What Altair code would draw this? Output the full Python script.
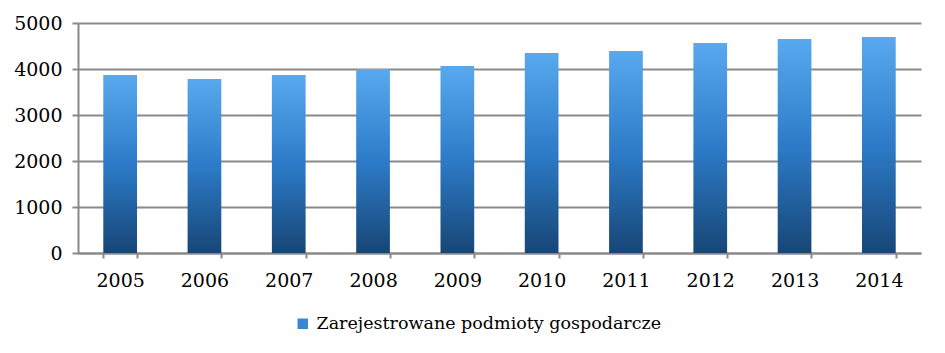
import altair as alt
import pandas as pd

years = ["2005", "2006", "2007", "2008", "2009", "2010", "2011", "2012", "2013", "2014"]
values = [3870, 3785, 3870, 4000, 4065, 4350, 4390, 4565, 4650, 4695]
series_name = "Zarejestrowane podmioty gospodarcze"
y_ticks = [0, 1000, 2000, 3000, 4000, 5000]

df = pd.DataFrame({"rok": years, "wartosc": values, "seria": [series_name] * len(years)})

grad = {
    "gradient": "linear",
    "x1": 0, "y1": 0, "x2": 0, "y2": 1,
    "stops": [
        {"offset": 0, "color": "#58a9ef"},
        {"offset": 0.5, "color": "#2d7bc8"},
        {"offset": 1, "color": "#174676"},
    ],
}

FONT = "DejaVu Serif"
GRID = "#898989"

chart = alt.Chart(df).mark_bar(fill=alt.Gradient(**grad)).encode(
    x=alt.X(
        "rok:N",
        sort=years,
        title=None,
        scale=alt.Scale(paddingInner=0.6, paddingOuter=0.3),
        axis=alt.Axis(
            labelAngle=0,
            tickBand="extent",
            ticks=True,
            tickSize=5,
            labelPadding=13,
            grid=False,
        ),
    ),
    y=alt.Y(
        "wartosc:Q",
        title=None,
        scale=alt.Scale(domain=[0, 5000], nice=False),
        axis=alt.Axis(values=y_ticks, format="d", tickSize=6, labelPadding=10, grid=True),
    ),
    color=alt.Color(
        "seria:N",
        scale=alt.Scale(range=["#3a86d3"]),
        legend=alt.Legend(
            title=None,
            orient="none",
            legendX=216,
            legendY=292,
            symbolType="square",
            symbolSize=110,
            symbolStrokeWidth=0,
            symbolOpacity=1,
            labelFontSize=17.5,
            labelFont=FONT,
            labelColor="#000000",
            labelLimit=600,
            labelOffset=5,
        ),
    ),
).properties(
    width=843,
    height=230,
    padding={"left": 78, "top": 23, "right": 24, "bottom": 100},
    autosize=alt.AutoSizeParams(type="none"),
).configure_view(
    stroke=None
).configure_axis(
    labelFont=FONT,
    labelFontSize=19,
    labelColor="#000000",
    domainColor=GRID,
    domainWidth=2,
    tickColor=GRID,
    tickWidth=2,
    gridColor=GRID,
    gridWidth=2,
    gridOpacity=1,
)

chart.save("out.html", embed_options={"renderer": "svg", "actions": False})
